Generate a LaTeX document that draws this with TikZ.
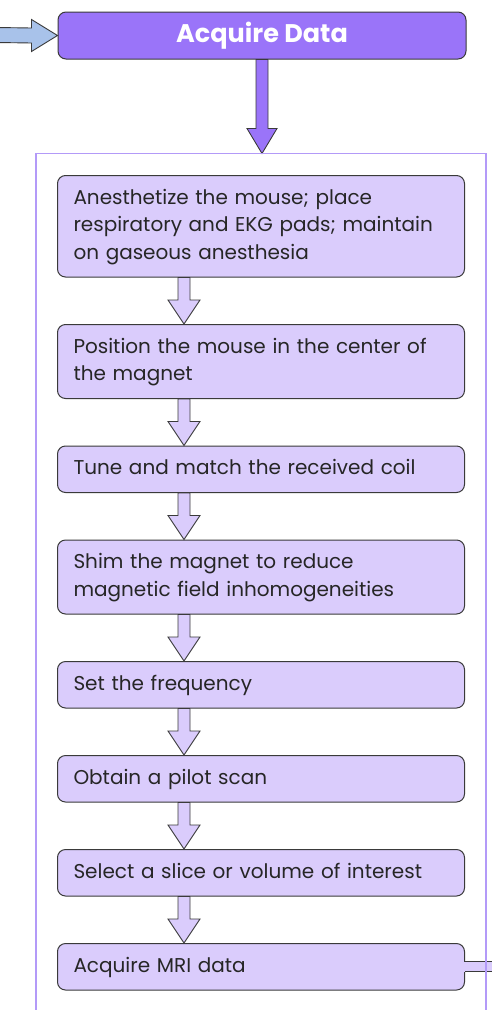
\documentclass[tikz,border=0pt]{standalone}
\usepackage{fontspec}
\setmainfont{Poppins}
\usetikzlibrary{positioning}

\begin{document}
\begin{tikzpicture}[x=1pt,y=1pt]
       \definecolor{titlepurple}{HTML}{9A74F9}
       \definecolor{steplilac}{HTML}{DACCFC}
       \definecolor{framelilac}{HTML}{B39AF8}
       \definecolor{inblue}{HTML}{A8C2EA}
       \definecolor{edgegray}{HTML}{3A3A3A}

       \newcommand{\stepgap}[0]{46.5pt}

       \tikzstyle{titlebox}  = [rectangle, rounded corners=8pt, minimum width=408pt, minimum height=47pt, fill=titlepurple, draw=edgegray, line width=1pt, text=white, font=\fontsize{25.5}{28}\selectfont\bfseries]
       \tikzstyle{stepbox}   = [rectangle, rounded corners=8pt, text width=375pt, align=left, inner xsep=16pt, inner ysep=9.5pt, fill=steplilac, draw=edgegray, line width=1pt, text=black!85, font=\fontsize{20}{27.5}\selectfont, execute at begin node=\strut, execute at end node=\strut]
       \tikzstyle{stepconn}  = [fill=steplilac, draw=edgegray, line width=0.9pt, line join=miter]
       \tikzstyle{bigconn}   = [fill=titlepurple, draw=edgegray, line width=0.9pt, line join=miter]
       \tikzstyle{inconn}    = [fill=inblue, draw=edgegray, line width=0.9pt, line join=miter]
       \tikzstyle{frame}     = [draw=framelilac, line width=1.8pt]

       % arrow from the bottom of #1 to the top of #2
       \newcommand{\stepto}[2]{
         \draw [stepconn] ([xshift=121pt]#1.south west) -- ([xshift=121pt,yshift=24pt]#2.north west) -- ++(-10,0)
           -- ([xshift=127pt]#2.north west) -- ++(16,24) -- ++(-10,0) -- ([xshift=133pt]#1.south west) -- cycle;
       }

       \useasboundingbox (0,0) rectangle (491,-1010);

       \node [titlebox] (acquire) at (262,-35.5) {Acquire Data};
       \coordinate [below = 94pt of acquire.south] (frametop);
       \coordinate (source) at (-3,-35);

       \node [stepbox, anchor=north west] (anesthetize) at (57,-175)
         {Anesthetize the mouse; place\\ respiratory and EKG pads; maintain\\ on gaseous anesthesia};
       \node [stepbox, below = \stepgap of anesthetize] (position)
         {Position the mouse in the center of\\ the magnet};
       \node [stepbox, below = \stepgap of position]    (tune)
         {Tune and match the received coil};
       \node [stepbox, below = \stepgap of tune]        (shim)
         {Shim the magnet to reduce\\ magnetic field inhomogeneities};
       \node [stepbox, below = \stepgap of shim]        (frequency)
         {Set the frequency};
       \node [stepbox, below = \stepgap of frequency]   (pilot)
         {Obtain a pilot scan};
       \node [stepbox, below = \stepgap of pilot]       (slice)
         {Select a slice or volume of interest};
       \node [stepbox, below = \stepgap of slice]       (acquiremri)
         {Acquire MRI data};
       \coordinate [right = 32pt of acquiremri.east] (sink);

       % incoming and outgoing arrows
       \draw [inconn] ([yshift=7.5pt]source) -- ([xshift=-26pt,yshift=7.5pt]acquire.west) -- ++(0,8.5)
         -- (acquire.west) -- ++(-26,-16) -- ++(0,8.5) -- ([yshift=-7.5pt]source) -- cycle;
       \draw [bigconn] ([xshift=-6pt]acquire.south) -- ([xshift=-6pt,yshift=25pt]frametop) -- ++(-9,0)
         -- (frametop) -- ++(15,25) -- ++(-9,0) -- ([xshift=6pt]acquire.south) -- cycle;
       \fill [steplilac] ([xshift=-2pt,yshift=5pt]acquiremri.east) rectangle ([yshift=-5pt]sink);
       \draw [draw=edgegray, line width=0.9pt] ([yshift=5pt]acquiremri.east) -- ([yshift=5pt]sink)
         ([yshift=-5pt]acquiremri.east) -- ([yshift=-5pt]sink);

       \stepto{anesthetize}{position}
       \stepto{position}{tune}
       \stepto{tune}{shim}
       \stepto{shim}{frequency}
       \stepto{frequency}{pilot}
       \stepto{pilot}{slice}
       \stepto{slice}{acquiremri}

       \draw [frame] (36,-1014) |- (frametop) -| (486,-1014);
\end{tikzpicture}
\end{document}
